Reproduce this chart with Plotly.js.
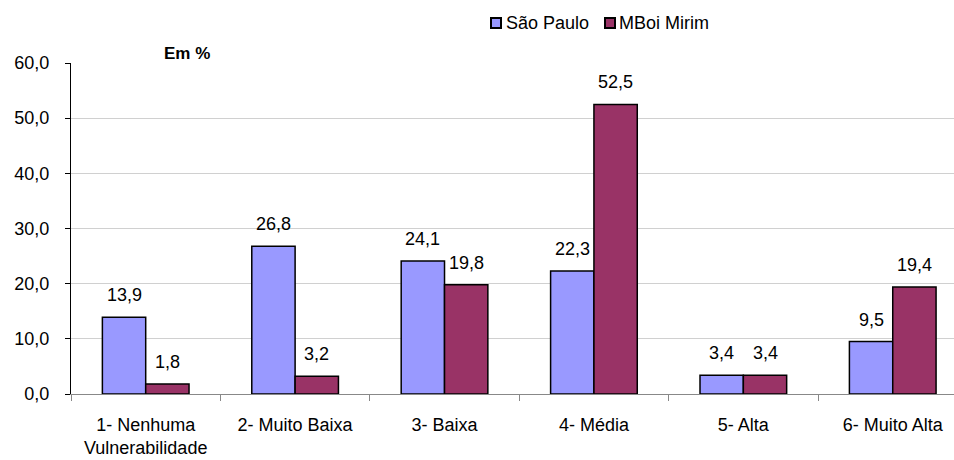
<!DOCTYPE html>
<html><head><meta charset="utf-8">
<script src="https://cdn.plot.ly/plotly-3.0.1.min.js"></script>
<style>body{margin:0;background:#fff}#c{width:954px;height:460px}</style>
</head><body><div id="c"></div>
<script>
const categories = ["1- Nenhuma<br>Vulnerabilidade","2- Muito Baixa","3- Baixa","4- Média","5- Alta","6- Muito Alta"];
const seriesNames = ["São Paulo", "MBoi Mirim"];
const saoPaulo = [13.9, 26.8, 24.1, 22.3, 3.4, 9.5];
const mboiMirim = [1.8, 3.2, 19.8, 52.5, 3.4, 19.4];
const yTicks = [0, 10, 20, 30, 40, 50, 60];
const colors = ["#9999FF", "#993366"];

const FAM = "Liberation Sans, Arial, sans-serif";
const FS = 18;
const bargap = 0.42;
const plotL = 71, plotW = 883, xMax = 5.41;
const catPx = plotW / (xMax + 0.5);
const halfBar = catPx * (1 - bargap) / 4;

function series(i, vals) {
  return {
    type: "bar", name: seriesNames[i], x: categories, y: vals,
    marker: {color: colors[i], line: {color: "#000", width: 1.5}},
    hoverinfo: "skip", showlegend: false
  };
}
const data = [series(0, saoPaulo), series(1, mboiMirim)];

const annotations = [];
[saoPaulo, mboiMirim].forEach((vals, s) => {
  vals.forEach((v, i) => {
    annotations.push({
      x: categories[i], y: v, xref: "x", yref: "y",
      text: v.toFixed(1).replace(".", ","), showarrow: false,
      xanchor: "center", yanchor: "bottom",
      xshift: (s === 0 ? -1 : 1) * halfBar, yshift: 10,
      font: {family: FAM, size: FS, color: "#000"}
    });
  });
});
annotations.push({text: "<b>Em %</b>", xref: "paper", yref: "paper", x: (162 - plotL) / plotW, y: (394 - 53) / 331,
  xanchor: "left", yanchor: "middle", showarrow: false, font: {family: FAM, size: 17, color: "#000"}});

// legend drawn as shapes + text
const legX = [491, 605], legTextX = [504, 617], legY = 23;
const shapes = [];
seriesNames.forEach((n, i) => {
  shapes.push({type: "rect", xref: "paper", yref: "paper",
    x0: (legX[i] - plotL) / plotW, x1: (legX[i] + 10 - plotL) / plotW,
    y0: (394 - (legY - 5)) / 331, y1: (394 - (legY + 5)) / 331,
    fillcolor: colors[i], line: {color: "#000", width: 2}});
  annotations.push({text: n, xref: "paper", yref: "paper", x: (legTextX[i] - plotL) / plotW, y: (394 - legY) / 331,
    xanchor: "left", yanchor: "middle", showarrow: false, font: {family: FAM, size: FS, color: "#000"}});
});

const layout = {
  width: 954, height: 460,
  margin: {l: plotL, r: 0, t: 63, b: 66},
  paper_bgcolor: "#fff", plot_bgcolor: "#fff",
  separators: ",.",
  barmode: "group", bargap: bargap, bargroupgap: 0,
  font: {family: FAM, size: FS, color: "#000"},
  showlegend: false,
  xaxis: {type: "category", range: [-0.5, xMax], tickson: "boundaries",
          ticks: "outside", ticklen: 6, tickcolor: "#888", showline: true, linecolor: "#888",
          showgrid: false, tickfont: {size: FS}, ticklabelstandoff: 14, fixedrange: true},
  yaxis: {range: [0, 60], tickvals: yTicks, tickformat: ".1f", ticks: "outside", ticklen: 5,
          tickcolor: "#000", showline: true, linecolor: "#000", linewidth: 1,
          gridcolor: "#d0d0d0", zeroline: false, tickfont: {size: FS}, ticklabelstandoff: 12, fixedrange: true},
  annotations: annotations,
  shapes: shapes
};
Plotly.newPlot("c", data, layout, {displayModeBar: false, staticPlot: true});
</script></body></html>
